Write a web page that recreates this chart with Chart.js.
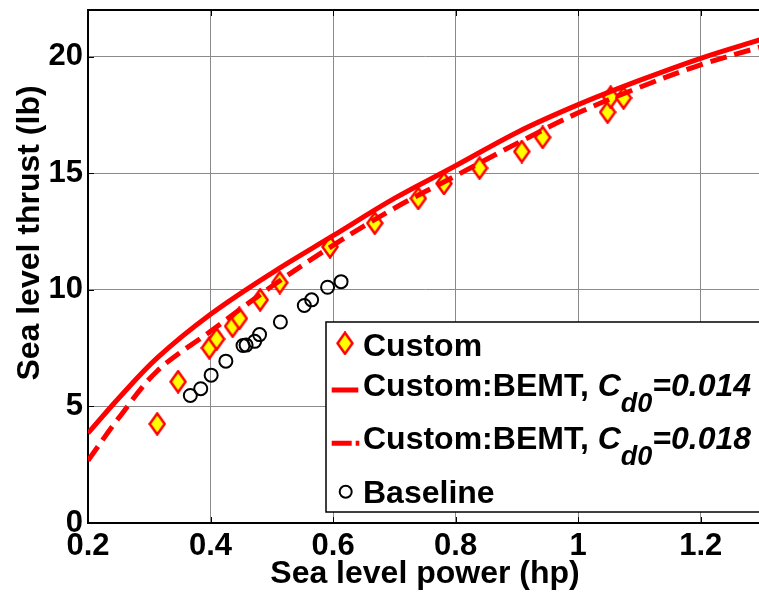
<!DOCTYPE html>
<html>
<head>
<meta charset="utf-8">
<title>Empuje vs potencia</title>
<script src="https://cdn.jsdelivr.net/npm/chart.js@4.4.1/dist/chart.umd.min.js"></script>
<style>
    html, body { margin: 0; padding: 0; background: #fff; overflow: hidden; }
    #grafico { display: block; }
</style>
</head>
<body>
<canvas id="grafico" width="772" height="592"></canvas>
<script>
// Datos medidos del rotor Custom (potencia hp, empuje lb)
var potenciaCustom = [0.313, 0.347, 0.398, 0.410, 0.436, 0.447, 0.481, 0.513, 0.595, 0.668, 0.739, 0.781, 0.839, 0.908, 0.942, 1.048, 1.053, 1.074];
var empujeCustom   = [4.25, 6.06, 7.51, 7.89, 8.44, 8.77, 9.57, 10.31, 11.84, 12.86, 13.92, 14.56, 15.22, 15.93, 16.54, 17.62, 18.26, 18.23];

// Datos medidos del rotor Baseline
var potenciaBaseline = [0.367, 0.384, 0.401, 0.425, 0.453, 0.458, 0.472, 0.480, 0.514, 0.553, 0.565, 0.591, 0.613];
var empujeBaseline   = [5.47, 5.76, 6.34, 6.94, 7.61, 7.63, 7.79, 8.08, 8.62, 9.33, 9.57, 10.11, 10.35];

// Curvas de la teoria BEMT para dos valores de Cd0
var potenciaBEMT  = [0.2, 0.25, 0.313, 0.4, 0.5, 0.6, 0.7, 0.8, 0.9, 1.0, 1.1, 1.2, 1.3];
var empujeBEMT014 = [3.85, 5.35, 7.08, 8.95, 10.72, 12.32, 13.92, 15.32, 16.75, 17.94, 18.98, 19.93, 20.75];
var empujeBEMT018 = [2.68, 4.50, 6.52, 8.22, 10.15, 11.91, 13.50, 14.89, 16.28, 17.59, 18.68, 19.65, 20.43];

// Marcas de los ejes
var ticksX = [0.2, 0.4, 0.6, 0.8, 1, 1.2];
var ticksY = [0, 5, 10, 15, 20];

var fuente = '"Liberation Sans", Arial, Helvetica, sans-serif';

function puntos(xs, ys) {
    return xs.map(function (x, i) { return { x: x, y: ys[i] }; });
}

// Marcador rombo amarillo con borde rojo
function crearRombo() {
    var c = document.createElement('canvas');
    c.width = 18;
    c.height = 24;
    var g = c.getContext('2d');
    g.beginPath();
    g.moveTo(9, 1.5);
    g.lineTo(16.5, 12);
    g.lineTo(9, 22.5);
    g.lineTo(1.5, 12);
    g.closePath();
    g.fillStyle = '#ffff00';
    g.fill();
    g.lineWidth = 2.5;
    g.strokeStyle = '#ff0000';
    g.stroke();
    return c;
}
var rombo = crearRombo();

// Texto con partes en cursiva y subindice
function textoRico(ctx, partes, x, y) {
    partes.forEach(function (p) {
        ctx.font = p.font;
        ctx.fillText(p.t, x, y + (p.dy || 0));
        x += ctx.measureText(p.t).width;
    });
}

function dibujarLeyenda(ctx) {
    var x0 = 326, y0 = 322, y1 = 512;
    var xTexto = 363;
    var negrita = 'bold 32px ' + fuente;
    var cursiva = 'italic bold 32px ' + fuente;
    var sub = 'italic bold 27px ' + fuente;

    ctx.save();
    ctx.fillStyle = '#fff';
    ctx.fillRect(x0, y0, 470, y1 - y0);
    ctx.lineWidth = 1.5;
    ctx.strokeStyle = '#000';
    ctx.strokeRect(x0, y0, 470, y1 - y0);

    // muestras
    ctx.drawImage(rombo, 345 - 9, 343.3 - 12);

    ctx.strokeStyle = '#ff0000';
    ctx.lineWidth = 5;
    ctx.beginPath();
    ctx.moveTo(331.7, 390);
    ctx.lineTo(358.3, 390);
    ctx.stroke();

    ctx.setLineDash([20, 4]);
    ctx.beginPath();
    ctx.moveTo(331.7, 443.3);
    ctx.lineTo(359.3, 443.3);
    ctx.stroke();
    ctx.setLineDash([]);

    ctx.strokeStyle = '#000';
    ctx.lineWidth = 2;
    ctx.beginPath();
    ctx.arc(345.7, 491.7, 6, 0, Math.PI * 2);
    ctx.stroke();

    // textos
    ctx.fillStyle = '#000';
    ctx.textAlign = 'left';
    ctx.textBaseline = 'alphabetic';
    textoRico(ctx, [{ t: 'Custom', font: negrita }], xTexto, 355.7);
    textoRico(ctx, [
        { t: 'Custom:BEMT, ', font: negrita },
        { t: 'C', font: cursiva },
        { t: 'd0', font: sub, dy: 16 },
        { t: '=0.014', font: cursiva }
    ], xTexto, 395.7);
    textoRico(ctx, [
        { t: 'Custom:BEMT, ', font: negrita },
        { t: 'C', font: cursiva },
        { t: 'd0', font: sub, dy: 16 },
        { t: '=0.018', font: cursiva }
    ], xTexto, 449.3);
    textoRico(ctx, [{ t: 'Baseline', font: negrita }], xTexto, 503.3);
    ctx.restore();
}

// Borde superior, marcas hacia adentro, leyenda y titulos de ejes
const extras = {
    id: 'extras',
    afterDraw: function (chart) {
        var ctx = chart.ctx;
        var a = chart.chartArea;
        var sx = chart.scales.x, sy = chart.scales.y;
        ctx.save();
        ctx.strokeStyle = '#000';
        ctx.lineWidth = 2;
        ctx.beginPath();
        ctx.moveTo(a.left - 1, a.top);
        ctx.lineTo(a.right + 5, a.top);
        ctx.stroke();

        ctx.lineWidth = 1;
        ctx.beginPath();
        ticksX.forEach(function (v) {
            var px = Math.round(sx.getPixelForValue(v)) + 0.5;
            ctx.moveTo(px, a.bottom);
            ctx.lineTo(px, a.bottom - 6);
            ctx.moveTo(px, a.top);
            ctx.lineTo(px, a.top + 6);
        });
        ticksY.forEach(function (v) {
            var py = Math.round(sy.getPixelForValue(v)) + 0.5;
            ctx.moveTo(a.left, py);
            ctx.lineTo(a.left + 6, py);
        });
        ctx.stroke();
        ctx.restore();

        dibujarLeyenda(ctx);

        ctx.save();
        ctx.fillStyle = '#000';
        ctx.font = 'bold 32px ' + fuente;
        ctx.textAlign = 'center';
        ctx.textBaseline = 'alphabetic';
        ctx.fillText('Sea level power (hp)', (a.left + a.right) / 2, 583);
        ctx.translate(38.5, 233);
        ctx.rotate(-Math.PI / 2);
        ctx.fillText('Sea level thrust (lb)', 0, 0);
        ctx.restore();
    }
};

const data = {
    datasets: [
        {
            label: 'Custom',
            data: puntos(potenciaCustom, empujeCustom),
            pointStyle: rombo,
            pointRadius: 9,
            pointHoverRadius: 9,
            showLine: false,
            order: 3
        },
        {
            label: 'Custom:BEMT, Cd0=0.014',
            data: puntos(potenciaBEMT, empujeBEMT014),
            showLine: true,
            borderColor: '#ff0000',
            borderWidth: 5,
            pointRadius: 0,
            pointHoverRadius: 0,
            tension: 0.35,
            fill: false,
            order: 0
        },
        {
            label: 'Custom:BEMT, Cd0=0.018',
            data: puntos(potenciaBEMT, empujeBEMT018),
            showLine: true,
            borderColor: '#ff0000',
            borderWidth: 5,
            borderDash: [17, 8],
            pointRadius: 0,
            pointHoverRadius: 0,
            tension: 0.35,
            fill: false,
            order: 1
        },
        {
            label: 'Baseline',
            data: puntos(potenciaBaseline, empujeBaseline),
            pointStyle: 'circle',
            pointRadius: 6.5,
            pointBorderWidth: 2,
            pointBorderColor: '#000',
            pointBackgroundColor: 'rgba(0,0,0,0)',
            showLine: false,
            order: 2
        }
    ]
};

const config = {
    type: 'scatter',
    data: data,
    options: {
        responsive: false,
        animation: false,
        layout: { padding: { top: 6, right: 2, left: 0, bottom: 0 } },
        plugins: {
            legend: { display: false },
            tooltip: { enabled: false }
        },
        scales: {
            x: {
                type: 'linear',
                min: 0.2,
                max: 1.3,
                afterBuildTicks: function (s) { s.ticks = ticksX.map(function (v) { return { value: v }; }); },
                afterFit: function (s) {
                    s.height = 69;
                    s.paddingLeft = 0;
                    s.paddingRight = 0;
                },
                grid: { color: '#8a8a8a', lineWidth: 1, drawTicks: false },
                border: { display: true, color: '#000', width: 2 },
                ticks: {
                    color: '#000',
                    font: { family: fuente, size: 31, weight: 'bold' },
                    padding: 5,
                    maxRotation: 0,
                    autoSkip: false,
                    callback: function (v) { return String(Math.round(v * 10) / 10); }
                }
            },
            y: {
                type: 'linear',
                min: 0,
                max: 22,
                afterBuildTicks: function (s) { s.ticks = ticksY.map(function (v) { return { value: v }; }); },
                afterFit: function (s) {
                    s.width = 88;
                    s.paddingTop = 0;
                    s.paddingBottom = 0;
                },
                grid: { color: '#8a8a8a', lineWidth: 1, drawTicks: false },
                border: { display: true, color: '#000', width: 2 },
                ticks: {
                    color: '#000',
                    font: { family: fuente, size: 31, weight: 'bold' },
                    padding: 5,
                    autoSkip: false
                }
            }
        }
    },
    plugins: [extras]
};

const ctx = document.getElementById('grafico').getContext('2d');
new Chart(ctx, config);
</script>
</body>
</html>
